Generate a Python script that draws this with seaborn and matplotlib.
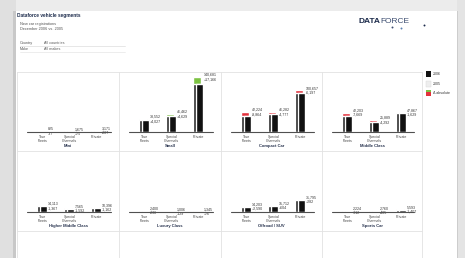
import numpy as np
import pandas as pd
import matplotlib
matplotlib.use("Agg")
import matplotlib.pyplot as plt
import seaborn as sns
from matplotlib.patches import Rectangle

sns.set_theme(style="white")
plt.rcParams['font.family'] = ['Liberation Sans', 'DejaVu Sans']

# ---------------- data ----------------
categories = ["True\nFleets", "Special\nChannels", "Private"]
segments = ["Mini", "Small", "Compact Car", "Middle Class",
            "Higher Middle Class", "Luxury Class", "Offroad / SUV", "Sports Car"]

mini_2006 = [825, 1675, 3171]
mini_delta = [-37, 75, -287]
small_2006 = [33552, 46462, 140681]
small_delta = [4027, 4629, 17166]
compact_2006 = [42224, 46282, 100657]
compact_delta = [-8864, -4777, -6197]
middle_2006 = [42203, 25889, 47867]
middle_delta = [-7669, -4292, -1629]
higher_2006 = [14113, 7565, 10396]
higher_delta = [-1367, -1592, -1162]
luxury_2006 = [2400, 1006, 1345]
luxury_delta = [-236, -129, 76]
suv_2006 = [14203, 15712, 31795]
suv_delta = [2590, 604, 282]
sports_2006 = [2224, 2760, 5593]
sports_delta = [-312, -405, -1407]

values_2006 = [mini_2006, small_2006, compact_2006, middle_2006,
               higher_2006, luxury_2006, suv_2006, sports_2006]
deltas = [mini_delta, small_delta, compact_delta, middle_delta,
          higher_delta, luxury_delta, suv_delta, sports_delta]

legend_labels = ["2006", "2005", "\u0394 absolute"]

# ---------------- figure ----------------
W, H = 465, 258
fig = plt.figure(figsize=(W / 100, H / 100), dpi=100)
fig.patch.set_facecolor("white")

bg = fig.add_axes([0, 0, 1, 1])
bg.set_xlim(0, W)
bg.set_ylim(H, 0)
bg.axis("off")

# window chrome
bg.add_patch(Rectangle((0, 0), W, 11, color="#ececec", lw=0))
bg.add_patch(Rectangle((0, 0), 16, H, color="#e0e0e0", lw=0))
bg.add_patch(Rectangle((13, 11), 3, H, color="#c8c8c8", lw=0))
bg.add_patch(Rectangle((457, 0), 8, H, color="#e4e4e4", lw=0))
bg.add_patch(Rectangle((456.5, 11), 1.2, H, color="#cdcdcd", lw=0))

NAVY = "#1c2b4b"
bg.text(17, 16, "Dataforce vehicle segments", fontsize=3.4, fontweight="bold",
        color=NAVY, va="center", ha="left")
bg.text(20, 23.5, "New car registrations", fontsize=2.8, color="#555", va="center")
bg.text(20, 29.3, "December 2006 vs. 2005", fontsize=2.8, color="#555", va="center")
bg.text(20, 43, "Country", fontsize=2.7, color="#555", va="center")
bg.text(44, 43, "All countries", fontsize=2.7, color="#555", va="center")
bg.plot([20, 125], [45.8, 45.8], color="#dddddd", lw=0.5)
bg.text(20, 49.3, "Make", fontsize=2.7, color="#555", va="center")
bg.text(44, 49.3, "All makes", fontsize=2.7, color="#555", va="center")
bg.plot([20, 125], [52, 52], color="#e6e6e6", lw=0.5)

# logo
t = bg.text(358, 21.5, "DATA", fontsize=6, fontweight="bold", color=NAVY,
            va="center", ha="left")
bg.annotate("FORCE", xy=(1, 0.5), xycoords=t, fontsize=6, color="#3c4d70",
            va="center", ha="left")
for (dx, dy, dc) in [(392, 26.5, "#3c4d70"), (401, 27.5, "#5a7fb0"), (424, 24.5, NAVY)]:
    bg.plot([dx], [dy], marker="o", ms=1.4, color=dc, mec="none")

# grid of panels
cells = [17, 119, 221, 322, 422]
rows = [(72, 132, 150), (151, 212, 230), (231, 300, 320)]
GRID = "#e2e2e2"
for y in [72, 150.5, 230.5]:
    bg.plot([cells[0], cells[-1]], [y, y], color=GRID, lw=0.6)
for x in cells:
    bg.plot([x, x], [72, H], color=GRID, lw=0.6)

GREEN = "#7cc242"
RED = "#e2313c"
BLACK = "#111111"
DARK = "#2a2a2a"
BW = 0.28
PXU = 27.0            # pixels per category step
K = 141000 / 55.0     # data units per pixel (vertical)


def px_axes(x0, y0, x1, y1):
    return fig.add_axes([x0 / W, 1 - y1 / H, (x1 - x0) / W, (y1 - y0) / H])


def shift(patches, dx):
    for p in patches:
        p.set_x(p.get_x() + dx)


for i, seg in enumerate(segments):
    r, c = divmod(i, 4)
    top, base, bot = rows[r]
    x0, x1 = cells[c], cells[c + 1]
    ax = px_axes(x0, top, x1, bot)
    ax.set_facecolor("none")

    v06 = np.array(values_2006[i])
    d = np.array(deltas[i])
    v05 = v06 - d
    hi = np.maximum(v06, v05)
    lo = np.minimum(v06, v05)
    df = pd.DataFrame({"cat": categories, "hi": hi, "lo": lo,
                       "sign": np.where(d >= 0, "up", "down")})

    n0 = len(ax.patches)
    sns.barplot(data=df, x="cat", y="hi", hue="sign", order=categories,
                hue_order=["up", "down"], palette={"up": GREEN, "down": RED},
                dodge=False, width=BW, errorbar=None, legend=False,
                saturation=1, ax=ax, zorder=2)
    shift(ax.patches[n0:], -0.05)
    n1 = len(ax.patches)
    sns.barplot(data=df, x="cat", y="lo", order=categories, color=DARK,
                width=BW, errorbar=None, saturation=1, ax=ax, zorder=3)
    shift(ax.patches[n1:], -0.05)
    n2 = len(ax.patches)
    sns.barplot(data=df, x="cat", y="lo", order=categories, color=BLACK,
                width=BW, errorbar=None, saturation=1, ax=ax, zorder=4)
    shift(ax.patches[n2:], 0.03)

    w = x1 - x0
    xl = -25.5 / PXU
    ax.set_xlim(xl, xl + w / PXU)
    ax.set_ylim(-(bot - base) * K, (base - top) * K)
    ax.axhline(0, xmin=10 / w, xmax=(w - 8) / w, color="#505050", lw=0.8, zorder=5)

    for j, cat in enumerate(categories):
        ax.text(j, -2.6 * K, cat, ha="center", va="top", fontsize=2.6,
                color="#444", linespacing=1.05)
        ax.text(j + 0.21, hi[j] + 0.2 * K, f"{v06[j]:,}", ha="left", va="bottom",
                fontsize=2.6, color="#333")
        ax.text(j + 0.21, hi[j] - 0.2 * K, f"{d[j]:+,}", ha="left", va="top",
                fontsize=2.6, color="#333")
    ax.text(xl + w / PXU / 2, -14 * K, seg, ha="center", va="center",
            fontsize=3.0, fontweight="bold", color="#2a3550")
    ax.set_xlabel("")
    ax.set_ylabel("")
    ax.axis("off")

# legend
bg.add_patch(Rectangle((426, 70.5), 4.5, 6.5, color=BLACK, lw=0))
bg.add_patch(Rectangle((426, 80.5), 4.5, 6.5, facecolor="#eeeeee",
                       edgecolor="#d8d8d8", lw=0.3))
bg.add_patch(Rectangle((426, 89.5), 4.5, 2.5, color=GREEN, lw=0))
bg.add_patch(Rectangle((426, 92), 4.5, 4, color=RED, lw=0))
for yy, lab in zip([74, 84, 93], legend_labels):
    bg.text(433, yy, lab, fontsize=2.6, color="#333", va="center", ha="left")

fig.savefig("out.png", dpi=100)
